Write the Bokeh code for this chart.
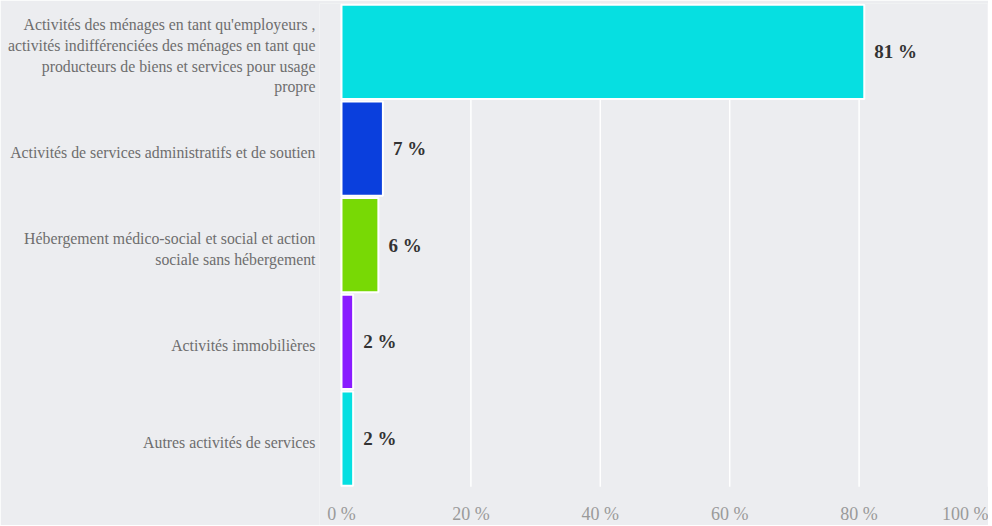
from bokeh.plotting import figure
from bokeh.models import Range1d, ColumnDataSource, FixedTicker
from bokeh.core.properties import value
from bokeh.embed import file_html
from bokeh.resources import INLINE

categories = [
    "Activités des ménages en tant qu'employeurs ,\nactivités indifférenciées des ménages en tant que\nproducteurs de biens et services pour usage\npropre",
    "Activités de services administratifs et de soutien",
    "Hébergement médico-social et social et action\nsociale sans hébergement",
    "Activités immobilières",
    "Autres activités de services",
]
values = [80.8, 6.4, 5.7, 1.8, 1.8]
value_labels = ["81 %", "7 %", "6 %", "2 %", "2 %"]
colors = ["#06dfe1", "#0a3fdd", "#78d905", "#8a1cff", "#06dfe1"]
x_ticks = [0, 20, 40, 60, 80, 100]
x_tick_labels = ["0 %", "20 %", "40 %", "60 %", "80 %", "100 %"]

BG = "#ecedf0"
FONT = "Liberation Serif"

n = len(categories)
ypos = [n - 1 - i for i in range(n)]
src = ColumnDataSource(dict(y=ypos, val=values, lab=value_labels, col=colors))

bottom_pad = 0.4   # room for the value-axis labels inside the frame
left_pad = 3.4     # room for the "0 %" label inside the frame
label_shift = 0.04  # category labels sit slightly below bar centres
p = figure(width=988, height=525, output_backend="svg", toolbar_location=None,
           x_axis_location=None,
           x_range=Range1d(x_ticks[0] - left_pad, x_ticks[-1]),
           y_range=Range1d(-0.5 - bottom_pad, n - 0.5))
p.background_fill_color = BG
p.border_fill_color = BG
p.outline_line_color = None
p.min_border_left = 319
p.min_border_right = 0
p.min_border_top = 3
p.min_border_bottom = 0
p.xgrid.grid_line_color = None
p.ygrid.grid_line_color = None

# vertical white gridlines over the category area only
grid_src = ColumnDataSource(dict(x=x_ticks, y0=[-0.5] * len(x_ticks), y1=[n - 0.5] * len(x_ticks)))
p.segment(x0="x", x1="x", y0="y0", y1="y1", line_color="white", line_width=1.5, source=grid_src)

p.hbar(y="y", right="val", left=0, height=0.975, fill_color="col",
       line_color="white", line_width=2, source=src)
p.text(x="val", y="y", text="lab", x_offset=10, text_baseline="middle",
       text_align="left", text_font=value(FONT), text_font_style="bold",
       text_font_size="19px", text_color="#333333", source=src)

# value-axis labels
tick_src = ColumnDataSource(dict(x=x_ticks[:-1], y=[-0.5] * (len(x_ticks) - 1), t=x_tick_labels[:-1]))
last_src = ColumnDataSource(dict(x=x_ticks[-1:], y=[-0.5], t=x_tick_labels[-1:]))
p.text(x="x", y="y", text="t", y_offset=27, text_align="center", text_baseline="middle",
       text_font=value(FONT), text_font_size="18px", text_color="#9a9a9a", source=tick_src)
p.text(x="x", y="y", text="t", y_offset=27, text_align="right", text_baseline="middle",
       text_font=value(FONT), text_font_size="18px", text_color="#9a9a9a", source=last_src)

# category axis
label_ticks = [round(y - label_shift, 2) for y in ypos]
p.yaxis.ticker = FixedTicker(ticks=label_ticks)
p.yaxis.major_label_overrides = {t: c for t, c in zip(label_ticks, categories)}
p.yaxis.axis_line_color = None
p.yaxis.major_tick_line_color = None
p.yaxis.minor_tick_line_color = None
p.yaxis.major_tick_out = 0
p.yaxis.major_tick_in = 0
p.yaxis.major_label_text_font = FONT
p.yaxis.major_label_text_font_size = "15.8px"
p.yaxis.major_label_text_color = "#6e6e6e"
p.yaxis.major_label_text_line_height = 1.22
p.yaxis.major_label_text_align = "right"
p.yaxis.major_label_standoff = 4

open("out.html", "w").write(file_html(p, INLINE))
